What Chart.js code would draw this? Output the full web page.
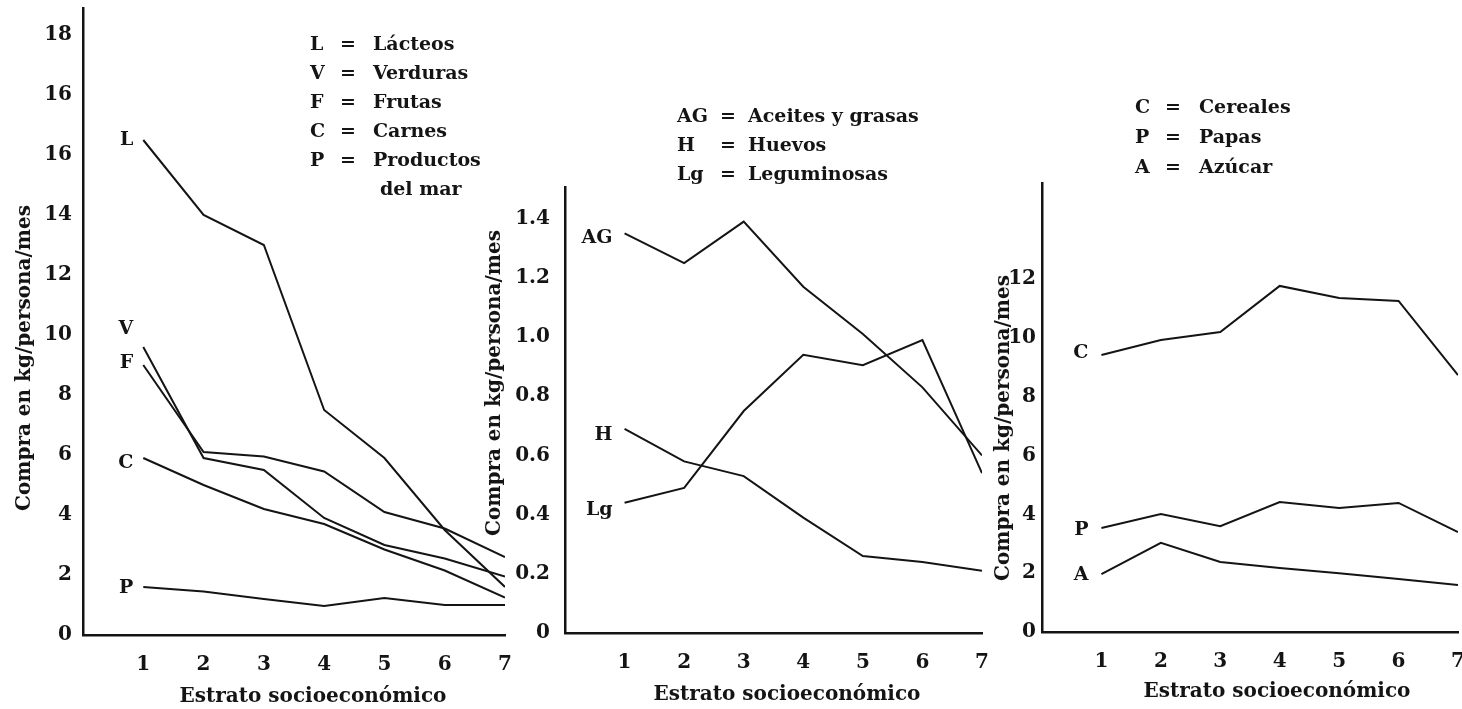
<!DOCTYPE html>
<html lang="es">
<head>
<meta charset="utf-8">
<title>Compra en kg/persona/mes por estrato socioeconómico</title>
<script src="https://cdn.jsdelivr.net/npm/chart.js@4.4.1/dist/chart.umd.min.js"></script>
<style>
  html, body { margin: 0; padding: 0; background: #ffffff; overflow: hidden; }
  #wrap { position: relative; width: 1462px; height: 709px; }
  canvas { position: absolute; left: 0; top: 0; }
</style>
</head>
<body>
<div id="wrap">
  <canvas id="c1" width="1462" height="709"></canvas>
  <canvas id="c2" width="1462" height="709"></canvas>
  <canvas id="c3" width="1462" height="709"></canvas>
</div>
<script>
// ---------------- DATA ----------------
const strata = [1, 2, 3, 4, 5, 6, 7];

// Panel 1
const keys1 = ['L', 'V', 'F', 'C', 'P'];
const names1 = ['Lácteos', 'Verduras', 'Frutas', 'Carnes', 'Productos\ndel mar'];
const lacteos   = [16.5, 14.0, 13.0, 7.5, 5.9, 3.5, 1.6];
const verduras  = [9.6, 5.9, 5.5, 3.9, 3.0, 2.55, 1.95];
const frutas    = [9.0, 6.1, 5.95, 5.45, 4.1, 3.55, 2.6];
const carnes    = [5.9, 5.0, 4.2, 3.7, 2.85, 2.15, 1.25];
const delMar    = [1.6, 1.45, 1.2, 0.97, 1.23, 1.0, 1.0];
const yTicks1      = [0, 2, 4, 6, 8, 10, 12, 14, 16, 18, 20];
const yTickLabels1 = ['0', '2', '4', '6', '8', '10', '12', '14', '16', '16', '18'];

// Panel 2
const keys2 = ['AG', 'H', 'Lg'];
const names2 = ['Aceites y grasas', 'Huevos', 'Leguminosas'];
const aceites     = [1.35, 1.25, 1.39, 1.17, 1.01, 0.83, 0.60];
const huevos      = [0.69, 0.58, 0.53, 0.39, 0.26, 0.24, 0.21];
const leguminosas = [0.44, 0.49, 0.75, 0.94, 0.905, 0.99, 0.54];
const yTicks2      = [0, 0.2, 0.4, 0.6, 0.8, 1.0, 1.2, 1.4];
const yTickLabels2 = ['0', '0.2', '0.4', '0.6', '0.8', '1.0', '1.2', '1.4'];

// Panel 3
const keys3 = ['C', 'P', 'A'];
const names3 = ['Cereales', 'Papas', 'Azúcar'];
const cereales = [9.42, 9.93, 10.2, 11.77, 11.36, 11.26, 8.74];
const papas    = [3.54, 4.01, 3.6, 4.42, 4.22, 4.39, 3.4];
const azucar   = [1.97, 3.03, 2.38, 2.18, 2.0, 1.8, 1.6];
const yTicks3      = [0, 2, 4, 6, 8, 10, 12];
const yTickLabels3 = ['0', '2', '4', '6', '8', '10', '12'];

const xTitle = 'Estrato socioeconómico';
const yTitle = 'Compra en kg/persona/mes';

// ---------------- STYLE / LAYOUT ----------------
const INK = '#141414';
const FONT = "'DejaVu Serif', 'Liberation Serif', serif";
const W = 1462, H = 709;

const figureText = {
  id: 'figureText',
  afterDatasetsDraw(chart, args, o) {
    const ctx = chart.ctx;
    ctx.save();
    ctx.fillStyle = INK;
    ctx.textBaseline = 'middle';
    // series keys next to first point
    ctx.font = `bold ${o.size}px ${FONT}`;
    ctx.textAlign = 'right';
    chart.data.datasets.forEach((ds, i) => {
      const p = chart.getDatasetMeta(i).data[0];
      const dy = (o.keyDy && o.keyDy[i]) || 0;
      ctx.fillText(ds.label, p.x - o.keyGap, p.y + dy);
    });
    // legend
    ctx.textAlign = 'left';
    const lg = o.legend;
    let row = 0;
    o.keys.forEach((k, i) => {
      const y = lg.y0 + row * lg.dy;
      ctx.fillText(k, lg.xKey, y);
      ctx.fillText('=', lg.xEq, y);
      const parts = o.names[i].split('\n');
      parts.forEach((part, j) => {
        ctx.fillText(part, lg.xName + (j ? lg.indent : 0), lg.y0 + (row + j) * lg.dy);
      });
      row += parts.length;
    });
    // axis titles
    ctx.font = `bold ${o.titleSize}px ${FONT}`;
    ctx.textAlign = 'center';
    ctx.fillText(xTitle, o.xTitle.x, o.xTitle.y);
    ctx.save();
    ctx.translate(o.yTitle.x, o.yTitle.y);
    ctx.rotate(-Math.PI / 2);
    ctx.fillText(yTitle, 0, 0);
    ctx.restore();
    ctx.restore();
  }
};

function series(values, key) {
  return {
    label: key,
    data: strata.map((s, i) => ({ x: s, y: values[i] })),
    borderColor: INK,
    borderWidth: 2,
    pointRadius: 0,
    tension: 0,
    fill: false
  };
}

function makePanel(id, cfg) {
  const tickFont = { family: FONT, size: 20, weight: 'bold' };
  return new Chart(document.getElementById(id), {
    type: 'line',
    data: { datasets: cfg.datasets },
    plugins: [figureText],
    options: {
      responsive: false,
      animation: false,
      events: [],
      layout: { padding: { left: 0, top: cfg.area.top, right: W - cfg.area.right, bottom: 0 } },
      plugins: {
        legend: { display: false },
        tooltip: { enabled: false },
        figureText: cfg.text
      },
      scales: {
        x: {
          type: 'linear',
          min: 0, max: 7,
          afterBuildTicks: s => { s.ticks = strata.map(v => ({ value: v })); },
          afterFit: s => { s.height = H - cfg.area.bottom; s.paddingLeft = 0; s.paddingRight = 0; },
          grid: { display: false, drawTicks: false },
          border: { display: true, color: INK, width: 2.5 },
          ticks: { color: INK, font: tickFont, padding: 18, maxRotation: 0, autoSkip: false }
        },
        y: {
          type: 'linear',
          min: 0, max: cfg.yMax,
          afterBuildTicks: s => { s.ticks = cfg.yTicks.map(v => ({ value: v })); },
          afterFit: s => { s.width = cfg.area.left; s.paddingTop = 0; s.paddingBottom = 0; },
          grid: { display: false, drawTicks: false },
          border: { display: true, color: INK, width: 2.5 },
          ticks: {
            color: INK, font: tickFont, padding: cfg.tickPad, autoSkip: false,
            callback: (v, i) => cfg.yLabels[i]
          }
        }
      }
    }
  });
}

makePanel('c1', {
  area: { left: 83, right: 505, top: 8, bottom: 635 },
  yMax: 20.9, yTicks: yTicks1, yLabels: yTickLabels1, tickPad: 11,
  datasets: [
    series(lacteos, keys1[0]), series(verduras, keys1[1]), series(frutas, keys1[2]),
    series(carnes, keys1[3]), series(delMar, keys1[4])
  ],
  text: {
    size: 19, titleSize: 20, keyGap: 10, keyDy: [0, -18, -2, 5, 1],
    keys: keys1, names: names1,
    legend: { xKey: 310, xEq: 340, xName: 373, y0: 45, dy: 29, indent: 7 },
    xTitle: { x: 313, y: 697 }, yTitle: { x: 25, y: 358 }
  }
});

makePanel('c2', {
  area: { left: 565, right: 982, top: 187, bottom: 633 },
  yMax: 1.507, yTicks: yTicks2, yLabels: yTickLabels2, tickPad: 15,
  datasets: [series(aceites, keys2[0]), series(huevos, keys2[1]), series(leguminosas, keys2[2])],
  text: {
    size: 19, titleSize: 20, keyGap: 12, keyDy: [5, 6, 7],
    keys: keys2, names: names2,
    legend: { xKey: 677, xEq: 720, xName: 748, y0: 117, dy: 29, indent: 0 },
    xTitle: { x: 787, y: 695 }, yTitle: { x: 495, y: 383 }
  }
});

makePanel('c3', {
  area: { left: 1042, right: 1458, top: 183, bottom: 632 },
  yMax: 15.27, yTicks: yTicks3, yLabels: yTickLabels3, tickPad: 6,
  datasets: [series(cereales, keys3[0]), series(papas, keys3[1]), series(azucar, keys3[2])],
  text: {
    size: 19, titleSize: 20, keyGap: 13, keyDy: [-2, 2, 1],
    keys: keys3, names: names3,
    legend: { xKey: 1135, xEq: 1165, xName: 1199, y0: 108, dy: 30, indent: 0 },
    xTitle: { x: 1277, y: 692 }, yTitle: { x: 1004, y: 428 }
  }
});
</script>
</body>
</html>
